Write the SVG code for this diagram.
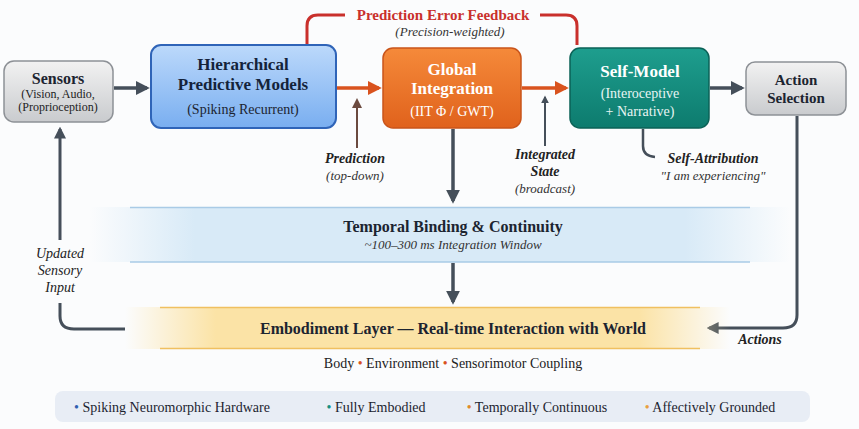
<svg xmlns="http://www.w3.org/2000/svg" width="859" height="429" viewBox="0 0 859 429">
<defs>
<style>
text{font-family:"Liberation Serif","DejaVu Serif",serif;text-anchor:middle}
.b{font-weight:bold}.i{font-style:italic}
.ln{fill:none;stroke:#454f5a;stroke-width:3.5}
</style>
<marker id="ad" viewBox="0 0 10 10" refX="8" refY="5" markerWidth="4" markerHeight="4" orient="auto"><path d="M0,0L10,5L0,10z" fill="#454f5a"/></marker>
<marker id="ao" viewBox="0 0 10 10" refX="8" refY="5" markerWidth="4" markerHeight="4" orient="auto"><path d="M0,0L10,5L0,10z" fill="#d9531e"/></marker>
<marker id="ab" viewBox="0 0 10 10" refX="8" refY="5" markerWidth="5" markerHeight="5" orient="auto"><path d="M0,0L10,5L0,10z" fill="#6b4a3f"/></marker>
<linearGradient id="gs" x1="0" y1="0" x2="0" y2="1"><stop offset="0" stop-color="#f2f2f2"/><stop offset="1" stop-color="#c9cbce"/></linearGradient>
<linearGradient id="gh" x1="0" y1="0" x2="0" y2="1"><stop offset="0" stop-color="#bcd9fb"/><stop offset="1" stop-color="#79aef0"/></linearGradient>
<linearGradient id="gg" x1="0" y1="0" x2="0" y2="1"><stop offset="0" stop-color="#f58a3a"/><stop offset="1" stop-color="#e0621c"/></linearGradient>
<linearGradient id="gm" x1="0" y1="0" x2="0" y2="1"><stop offset="0" stop-color="#1e9e8e"/><stop offset="1" stop-color="#0d7b6e"/></linearGradient>
<linearGradient id="gt" x1="0" y1="0" x2="1" y2="0"><stop offset="0" stop-color="#d8eaf7" stop-opacity="0"/><stop offset="0.15" stop-color="#d8eaf7"/><stop offset="0.85" stop-color="#d8eaf7"/><stop offset="1" stop-color="#d8eaf7" stop-opacity="0"/></linearGradient>
<linearGradient id="ge" x1="0" y1="0" x2="1" y2="0"><stop offset="0" stop-color="#fbe3a6" stop-opacity="0"/><stop offset="0.15" stop-color="#fbe3a6"/><stop offset="0.85" stop-color="#fbe3a6"/><stop offset="1" stop-color="#fbe3a6" stop-opacity="0"/></linearGradient>
</defs>
<rect width="859" height="429" fill="#fbfcfd"/>
<g id="connectors">
<path d="M307,45V26Q307,15 318,15H345" fill="none" stroke="#c9302c" stroke-width="3"/>
<path d="M540,15H566Q577,15 577,26V45" fill="none" stroke="#c9302c" stroke-width="3"/>
<path class="ln" d="M114,88H147" marker-end="url(#ad)"/>
<path d="M337,88H379" fill="none" stroke="#d9531e" stroke-width="3.5" marker-end="url(#ao)"/>
<path d="M522,88H566" fill="none" stroke="#d9531e" stroke-width="3.5" marker-end="url(#ao)"/>
<path class="ln" d="M710,88H742" marker-end="url(#ad)"/>
<path d="M357,148V100" fill="none" stroke="#6b4a3f" stroke-width="2" marker-end="url(#ab)"/>
<path d="M545,146V97" fill="none" stroke="#454f5a" stroke-width="2" marker-end="url(#ad)"/>
<path d="M643,129V146Q643,156 655,157" fill="none" stroke="#454f5a" stroke-width="2.5"/>
<path class="ln" d="M453,129V201" marker-end="url(#ad)"/>
<path class="ln" d="M453,263V302" marker-end="url(#ad)"/>
<path class="ln" d="M60,240V129" marker-end="url(#ad)" style="stroke-width:3"/>
<path class="ln" d="M60,303V316Q60,329 74,329H125" style="stroke-width:3"/>
<path class="ln" d="M797,116V315Q797,328 783,328H709" marker-end="url(#ad)" style="stroke-width:3"/>
</g>
<g id="labels">
<text x="443" y="20" class="b" font-size="15" fill="#c9302c">Prediction Error Feedback</text>
<text x="450" y="36" class="i" font-size="13" fill="#333">(Precision-weighted)</text>
<text x="355" y="163" class="b i" font-size="14" fill="#222">Prediction</text>
<text x="355" y="180" class="i" font-size="13" fill="#333">(top-down)</text>
<text x="545" y="159" class="b i" font-size="14" fill="#222">Integrated</text>
<text x="545" y="176" class="b i" font-size="14" fill="#222">State</text>
<text x="545" y="193" class="i" font-size="13" fill="#333">(broadcast)</text>
<text x="713" y="163" class="b i" font-size="14" fill="#222">Self-Attribution</text>
<text x="713" y="180" class="i" font-size="13" fill="#333">"I am experiencing"</text>
<text x="60" y="258" class="i" font-size="14" fill="#222">Updated</text>
<text x="60" y="275" class="i" font-size="14" fill="#222">Sensory</text>
<text x="60" y="292" class="i" font-size="14" fill="#222">Input</text>
<text x="760" y="344" class="b i" font-size="14" fill="#222">Actions</text>
</g>
<g id="sensors">
<rect x="4" y="61" width="109" height="61" rx="10" fill="url(#gs)" stroke="#8d9196" stroke-width="1.5"/>
<text x="58" y="84" class="b" font-size="16" fill="#1c2430">Sensors</text>
<text x="58" y="98" font-size="12" fill="#222">(Vision, Audio,</text>
<text x="58" y="111" font-size="12" fill="#222">(Proprioception)</text>
</g>
<g id="hpm">
<rect x="151" y="45" width="185" height="83" rx="10" fill="url(#gh)" stroke="#2f64b8" stroke-width="2"/>
<text x="243" y="70" class="b" font-size="17" fill="#14233a">Hierarchical</text>
<text x="243" y="90" class="b" font-size="17" fill="#14233a">Predictive Models</text>
<text x="243" y="114" font-size="14" fill="#1c2430">(Spiking Recurrent)</text>
</g>
<g id="global">
<rect x="383" y="48" width="138" height="80" rx="10" fill="url(#gg)" stroke="#c9541a" stroke-width="1.5"/>
<text x="452" y="75" class="b" font-size="17" fill="#fff">Global</text>
<text x="452" y="94" class="b" font-size="17" fill="#fff">Integration</text>
<text x="452" y="116" font-size="14" fill="#fff">(IIT Φ / GWT)</text>
</g>
<g id="selfmodel">
<rect x="570" y="48" width="139" height="80" rx="10" fill="url(#gm)" stroke="#0b6257" stroke-width="1.5"/>
<text x="640" y="77" class="b" font-size="17" fill="#fff">Self-Model</text>
<text x="640" y="98" font-size="14" fill="#e8f5f3">(Interoceptive</text>
<text x="640" y="116" font-size="14" fill="#e8f5f3">+ Narrative)</text>
</g>
<g id="action">
<rect x="746" y="62" width="100" height="53" rx="9" fill="url(#gs)" stroke="#8d9196" stroke-width="1.5"/>
<text x="796" y="85" class="b" font-size="15" fill="#1c2430">Action</text>
<text x="796" y="103" class="b" font-size="15" fill="#1c2430">Selection</text>
</g>
<g id="temporal">
<rect x="90" y="207" width="700" height="55" fill="url(#gt)"/>
<line x1="130" y1="207.5" x2="750" y2="207.5" stroke="#a9cbe6" stroke-width="1.5"/>
<line x1="130" y1="262" x2="750" y2="262" stroke="#a9cbe6" stroke-width="1.5"/>
<text x="453" y="232" class="b" font-size="16" fill="#1c2430">Temporal Binding &amp; Continuity</text>
<text x="453" y="249" class="i" font-size="13" fill="#333">~100–300 ms Integration Window</text>
</g>
<g id="embodiment">
<rect x="125" y="307" width="605" height="42" fill="url(#ge)"/>
<line x1="160" y1="307.5" x2="700" y2="307.5" stroke="#f0c060" stroke-width="1.5"/>
<line x1="160" y1="348.5" x2="700" y2="348.5" stroke="#f0c060" stroke-width="1.5"/>
<text x="453" y="334" class="b" font-size="16" fill="#1c2430">Embodiment Layer — Real-time Interaction with World</text>
<text x="453" y="368" font-size="14" fill="#222">Body <tspan fill="#d9531e">•</tspan> Environment <tspan fill="#d9531e">•</tspan> Sensorimotor Coupling</text>
</g>
<g id="legend">
<rect x="55" y="391" width="755" height="31" rx="8" fill="#e8edf5"/>
<text x="172" y="412" font-size="14" fill="#1c2430"><tspan fill="#2f5fb0">•</tspan> Spiking Neuromorphic Hardware</text>
<text x="376" y="412" font-size="14" fill="#1c2430"><tspan fill="#169080">•</tspan> Fully Embodied</text>
<text x="537" y="412" font-size="14" fill="#1c2430"><tspan fill="#e08a2a">•</tspan> Temporally Continuous</text>
<text x="710" y="412" font-size="14" fill="#1c2430"><tspan fill="#e8a040">•</tspan> Affectively Grounded</text>
</g>
</svg>
